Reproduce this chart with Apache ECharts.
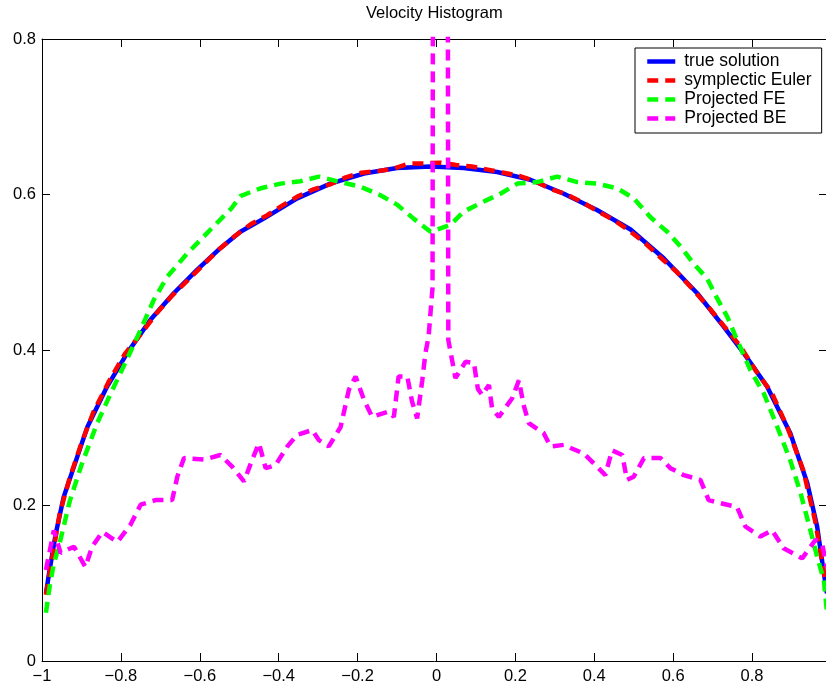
<!DOCTYPE html>
<html>
<head>
<meta charset="utf-8">
<script src="https://cdn.jsdelivr.net/npm/echarts@6/dist/echarts.min.js"></script>
<style>
  html, body { margin: 0; padding: 0; background: #fff; }
  #chart { width: 826px; height: 684px; }
</style>
</head>
<body>
<div id="chart"></div>
<script>
// true solution
var trueX = [-0.99, -0.982, -0.965, -0.945, -0.919, -0.885, -0.835, -0.784, -0.725, -0.666, -0.607, -0.548, -0.497, -0.438, -0.353, -0.269, -0.184, -0.1, -0.015, 0.069, 0.154, 0.238, 0.323, 0.407, 0.492, 0.576, 0.661, 0.728, 0.779, 0.838, 0.897, 0.94, 0.965, 0.982, 0.99];
var trueY = [0.087, 0.113, 0.164, 0.211, 0.25, 0.301, 0.353, 0.396, 0.439, 0.473, 0.503, 0.531, 0.552, 0.569, 0.595, 0.614, 0.627, 0.634, 0.636, 0.634, 0.629, 0.619, 0.601, 0.58, 0.555, 0.518, 0.473, 0.43, 0.396, 0.353, 0.293, 0.229, 0.173, 0.113, 0.087];

// symplectic Euler
var eulerX = [-0.99, -0.975, -0.955, -0.93, -0.9, -0.87, -0.83, -0.79, -0.75, -0.71, -0.67, -0.63, -0.59, -0.55, -0.51, -0.47, -0.43, -0.39, -0.35, -0.31, -0.27, -0.23, -0.19, -0.15, -0.11, -0.07, -0.03, 0.01, 0.05, 0.09, 0.13, 0.17, 0.21, 0.25, 0.29, 0.33, 0.37, 0.41, 0.45, 0.49, 0.53, 0.57, 0.61, 0.65, 0.69, 0.73, 0.77, 0.81, 0.85, 0.89, 0.93, 0.96, 0.99];
var eulerY = [0.085, 0.13, 0.19, 0.235, 0.28, 0.32, 0.36, 0.395, 0.42, 0.447, 0.47, 0.49, 0.51, 0.53, 0.547, 0.562, 0.573, 0.586, 0.598, 0.607, 0.613, 0.622, 0.628, 0.63, 0.633, 0.64, 0.64, 0.641, 0.638, 0.636, 0.632, 0.628, 0.624, 0.617, 0.607, 0.6, 0.59, 0.578, 0.567, 0.553, 0.537, 0.518, 0.5, 0.478, 0.455, 0.43, 0.405, 0.373, 0.345, 0.3, 0.245, 0.18, 0.09];

// Projected FE
var feX = [-0.99, -0.98, -0.97, -0.955, -0.93, -0.9, -0.86, -0.826, -0.793, -0.75, -0.717, -0.683, -0.632, -0.565, -0.52, -0.497, -0.446, -0.395, -0.345, -0.298, -0.243, -0.193, -0.142, -0.1, -0.058, -0.015, 0.035, 0.069, 0.112, 0.162, 0.205, 0.255, 0.306, 0.357, 0.407, 0.458, 0.5, 0.542, 0.585, 0.619, 0.652, 0.686, 0.712, 0.737, 0.762, 0.796, 0.83, 0.864, 0.897, 0.923, 0.948, 0.965, 0.982, 0.99];
var feY = [0.062, 0.098, 0.125, 0.152, 0.205, 0.252, 0.306, 0.344, 0.379, 0.426, 0.464, 0.494, 0.524, 0.559, 0.582, 0.598, 0.608, 0.614, 0.617, 0.623, 0.616, 0.61, 0.599, 0.587, 0.569, 0.552, 0.561, 0.578, 0.589, 0.601, 0.614, 0.616, 0.623, 0.616, 0.614, 0.608, 0.595, 0.571, 0.552, 0.533, 0.511, 0.492, 0.466, 0.443, 0.413, 0.374, 0.344, 0.301, 0.258, 0.216, 0.168, 0.134, 0.104, 0.062];

// Projected BE (the bin at 0.01 is far above the axis top)
var beX = [-0.99, -0.97, -0.953, -0.919, -0.89, -0.873, -0.847, -0.809, -0.776, -0.75, -0.712, -0.67, -0.657, -0.64, -0.59, -0.548, -0.518, -0.488, -0.467, -0.45, -0.433, -0.408, -0.378, -0.353, -0.315, -0.298, -0.273, -0.243, -0.222, -0.205, -0.184, -0.163, -0.121, -0.108, -0.096, -0.074, -0.062, -0.049, -0.036, -0.028, -0.02, -0.01, 0.01, 0.03, 0.048, 0.074, 0.095, 0.105, 0.116, 0.133, 0.141, 0.158, 0.192, 0.209, 0.221, 0.234, 0.272, 0.289, 0.323, 0.34, 0.373, 0.399, 0.428, 0.445, 0.471, 0.483, 0.5, 0.526, 0.568, 0.593, 0.627, 0.669, 0.69, 0.72, 0.762, 0.783, 0.821, 0.851, 0.88, 0.927, 0.961, 0.978, 0.99];
var beY = [0.117, 0.168, 0.139, 0.147, 0.121, 0.147, 0.166, 0.153, 0.175, 0.201, 0.207, 0.207, 0.237, 0.261, 0.259, 0.265, 0.25, 0.231, 0.259, 0.28, 0.248, 0.252, 0.276, 0.291, 0.297, 0.284, 0.276, 0.301, 0.349, 0.366, 0.336, 0.314, 0.321, 0.314, 0.366, 0.366, 0.334, 0.312, 0.361, 0.396, 0.417, 0.48, 8, 0.413, 0.364, 0.385, 0.383, 0.35, 0.342, 0.355, 0.325, 0.314, 0.338, 0.361, 0.329, 0.306, 0.293, 0.276, 0.278, 0.274, 0.267, 0.254, 0.239, 0.271, 0.265, 0.233, 0.237, 0.261, 0.261, 0.248, 0.239, 0.233, 0.207, 0.203, 0.198, 0.173, 0.16, 0.168, 0.145, 0.132, 0.156, 0.15, 0.12];

var names = ['true solution', 'symplectic Euler', 'Projected FE', 'Projected BE'];
var colors = ['#0000ff', '#ff0000', '#00ff00', '#ff00ff'];

function zip(xs, ys) {
    return xs.map(function (x, i) { return [x, ys[i]]; });
}
var allData = [zip(trueX, trueY), zip(eulerX, eulerY), zip(feX, feY), zip(beX, beY)];

var myChart = echarts.init(document.getElementById('chart'));

var fontFam = '"Liberation Sans", Arial, Helvetica, sans-serif';
var minus = function (v) { return String(v).replace('-', '\u2212'); };

function xAx(pos, labels) {
    return {
        type: 'value', position: pos, min: -1, max: 0.99, interval: 0.2,
        axisLine: { show: true, onZero: false, lineStyle: { color: '#000', width: 1 } },
        axisTick: { show: true, inside: true, length: 8, lineStyle: { color: '#000' } },
        axisLabel: { show: labels, showMaxLabel: false, color: '#000', fontSize: 16.5, fontFamily: fontFam, margin: 7, formatter: minus },
        splitLine: { show: false }
    };
}
function yAx(pos, labels) {
    return {
        type: 'value', position: pos, min: 0, max: 0.8, interval: 0.2,
        axisLine: { show: true, onZero: false, lineStyle: { color: '#000', width: 1 } },
        axisTick: { show: true, inside: true, length: 8, lineStyle: { color: '#000' } },
        axisLabel: { show: labels, color: '#000', fontSize: 16.5, fontFamily: fontFam, margin: 6 },
        splitLine: { show: false }
    };
}

var series = names.map(function (n, i) {
    return {
        name: n,
        type: 'line',
        data: allData[i],
        symbol: 'none',
        clip: true,
        z: 2 + i,
        lineStyle: {
            color: colors[i],
            width: 4.5,
            type: i === 0 ? 'solid' : [11, 7],
            cap: 'butt'
        },
        itemStyle: { color: colors[i] }
    };
});

var option = {
    animation: false,
    backgroundColor: '#fff',
    title: {
        text: 'Velocity Histogram',
        left: 366,
        top: 5,
        padding: 0,
        textStyle: { color: '#000', fontSize: 16.5, fontWeight: 'normal', fontFamily: fontFam }
    },
    legend: {
        data: names,
        orient: 'vertical',
        left: 635,
        top: 48,
        padding: [4, 10, 5, 10],
        itemWidth: 28,
        itemHeight: 14,
        itemGap: 0,
        borderColor: '#000',
        borderWidth: 1,
        backgroundColor: '#fff',
        itemStyle: { opacity: 0 },
        lineStyle: { width: 4.5, cap: 'butt' },
        textStyle: { color: '#000', fontSize: 17.5, fontFamily: fontFam, lineHeight: 19, padding: [0, 0, 0, 4] }
    },
    grid: {
        left: 42, top: 39, width: 785, height: 622,
        containLabel: false,
        outerBoundsMode: 'none'
    },
    xAxis: [xAx('bottom', true), xAx('top', false)],
    yAxis: [yAx('left', true), yAx('right', false)],
    series: series
};

myChart.setOption(option);
</script>
</body>
</html>
